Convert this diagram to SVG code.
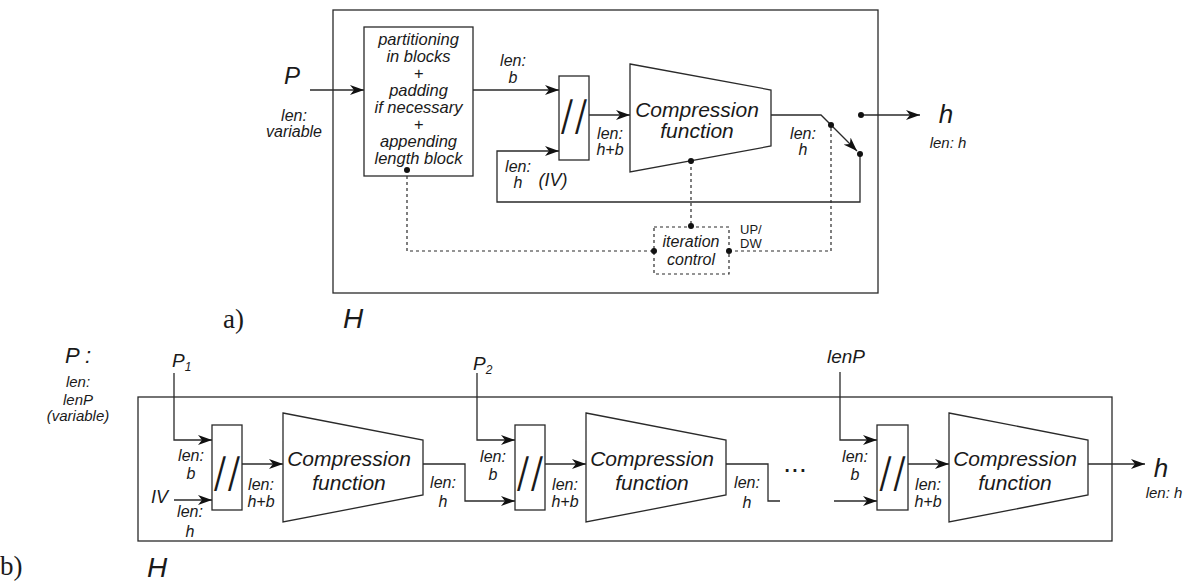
<svg xmlns="http://www.w3.org/2000/svg" width="1189" height="581" viewBox="0 0 1189 581">
<style>
.ln{stroke:#2a2a2a;stroke-width:1.3;fill:none}
.ar{stroke:#2a2a2a;stroke-width:1.3;fill:none;marker-end:url(#ah)}
.dash{stroke:#2a2a2a;stroke-width:1.2;stroke-dasharray:3,3;fill:none}
.box{fill:#fff;stroke:#2a2a2a;stroke-width:1.3}
.dbox{fill:#fff;stroke:#2a2a2a;stroke-width:1.2;stroke-dasharray:3,3}
.dot{fill:#111}
text{font-family:"Liberation Sans",Arial,sans-serif;fill:#1a1a1a}
.it{font-style:italic}
.c{text-anchor:middle}
.s16{font-size:16px}
.pb{font-size:16.5px}
.cf{font-size:21px;font-style:italic;text-anchor:middle}
.sl{font-family:"Inter","Liberation Sans",sans-serif;font-weight:300;font-size:40px;text-anchor:middle}
.ser{font-family:"Liberation Serif","Times New Roman",serif;font-size:27px}
</style>
<defs>
<marker id="ah" markerWidth="15" markerHeight="10" refX="14" refY="5" orient="auto" markerUnits="userSpaceOnUse">
<path d="M0,0 L14,5 L0,10 L4,5 z" fill="#111"/>
</marker>
</defs>

<!-- ===== Part a ===== -->
<g id="a-frame">
<rect class="box" x="333" y="10" width="545" height="283" fill="none"/>
</g>

<g id="a-connectors">
<line class="ar" x1="310" y1="90" x2="364" y2="90"/>
<line class="ar" x1="473" y1="90" x2="559" y2="90"/>
<path class="ar" d="M860,154 V202 H497 V151 H559"/>
<line class="ar" x1="589" y1="115" x2="630" y2="115"/>
<path class="ar" d="M771,115 H821 L857,151"/>
<line class="ar" x1="861" y1="115" x2="920" y2="115"/>
<path class="dash" d="M407,170 V251 H654"/>
<path class="dash" d="M691,161 V227"/>
<path class="dash" d="M729,251 H831 V125"/>
</g>

<g id="a-input">
<text class="it c" x="292" y="84" font-size="24">P</text>
<text class="it c s16" x="294" y="121">len:</text>
<text class="it c s16" x="294" y="137">variable</text>
</g>

<g id="a-partition">
<rect class="box" x="364" y="27" width="109" height="149"/>
<text class="it c pb" x="418.5" y="45">partitioning</text>
<text class="it c pb" x="418.5" y="62">in blocks</text>
<text class="it c pb" x="418.5" y="79">+</text>
<text class="it c pb" x="418.5" y="96">padding</text>
<text class="it c pb" x="418.5" y="113">if necessary</text>
<text class="it c pb" x="418.5" y="130">+</text>
<text class="it c pb" x="418.5" y="147">appending</text>
<text class="it c pb" x="418.5" y="164">length block</text>
</g>

<g id="a-labels">
<text class="it c s16" x="513" y="66">len:</text>
<text class="it c s16" x="513" y="83">b</text>
<text class="it c s16" x="518" y="172">len:</text>
<text class="it c s16" x="518" y="188">h</text>
<text class="it c" x="553" y="186" font-size="18">(IV)</text>
<text class="it c s16" x="610" y="139">len:</text>
<text class="it c s16" x="610" y="155">h+b</text>
<text class="it c s16" x="803" y="139">len:</text>
<text class="it c s16" x="803" y="155">h</text>
</g>

<g id="a-concat">
<rect class="box" x="559" y="76" width="30" height="84"/>
<text class="sl" x="574" y="130">//</text>
</g>

<g id="a-compress">
<polygon class="box" points="630,64 771,90 771,146 630,172"/>
<text class="cf" x="697" y="117">Compression</text>
<text class="cf" x="697" y="138">function</text>
</g>

<g id="a-switch">
<circle class="dot" cx="831" cy="125" r="3"/>
<circle class="dot" cx="860" cy="154" r="3"/>
<circle class="dot" cx="861" cy="115" r="3"/>
</g>

<g id="a-output">
<text class="it c" x="946" y="123" font-size="26">h</text>
<text class="it c" x="948" y="148" font-size="15">len: h</text>
</g>

<g id="a-iteration">
<rect class="dbox" x="654" y="227" width="75" height="47"/>
<text class="it c s16" x="691" y="247">iteration</text>
<text class="it c s16" x="691" y="265">control</text>
<text x="740" y="234" font-size="13">UP/</text>
<text x="740" y="248" font-size="13">DW</text>
<circle class="dot" cx="407" cy="170" r="3"/>
<circle class="dot" cx="691" cy="161" r="3"/>
<circle class="dot" cx="691" cy="226" r="3"/>
<circle class="dot" cx="654" cy="251" r="3"/>
<circle class="dot" cx="729" cy="251" r="3"/>
</g>

<g id="a-caption">
<text class="ser" x="223" y="328">a)</text>
<text class="it c" x="353" y="328" font-size="28">H</text>
</g>

<!-- ===== Part b ===== -->
<g id="b-frame">
<rect class="box" x="138" y="397" width="974" height="144" fill="none"/>
</g>

<g id="b-connectors">
<path class="ar" d="M174,373 V440 H212"/>
<line class="ar" x1="174" y1="500" x2="212" y2="500"/>
<line class="ar" x1="242" y1="464" x2="283" y2="464"/>
<path class="ar" d="M423,464 H465 V501 H515"/>
<path class="ar" d="M477,373 V440 H515"/>
<line class="ar" x1="545" y1="464" x2="586" y2="464"/>
<path class="ln" d="M726,464 H768 V501 H780"/>
<line class="ar" x1="834" y1="501" x2="877" y2="501"/>
<path class="ar" d="M840,372 V440 H877"/>
<line class="ar" x1="908" y1="464" x2="949" y2="464"/>
<line class="ar" x1="1088" y1="464" x2="1145" y2="464"/>
</g>

<g id="b-input">
<text class="it c" x="78" y="363" font-size="22">P :</text>
<text class="it c" x="78" y="387" font-size="15">len:</text>
<text class="it c" x="78" y="405" font-size="15">lenP</text>
<text class="it c" x="78" y="421" font-size="15">(variable)</text>
</g>

<g id="b-p1">
<text class="it" x="172" y="367" font-size="19">P<tspan font-size="12" dy="4">1</tspan></text>
</g>
<g id="b-p2">
<text class="it" x="473" y="370" font-size="19">P<tspan font-size="12" dy="4">2</tspan></text>
</g>
<g id="b-lenp">
<text class="it c" x="846" y="363" font-size="19">lenP</text>
</g>
<g id="b-iv">
<text class="it" x="168" y="503" font-size="18" text-anchor="end">IV</text>
</g>

<g id="b-concat1">
<rect class="box" x="212" y="425" width="30" height="85"/>
<text class="sl" x="227" y="487">//</text>
</g>
<g id="b-compress1">
<polygon class="box" points="283,413 423,440 423,495 283,522"/>
<text class="cf" x="349" y="466">Compression</text>
<text class="cf" x="349" y="490">function</text>
</g>
<g id="b-concat2">
<rect class="box" x="515" y="425" width="30" height="85"/>
<text class="sl" x="530" y="487">//</text>
</g>
<g id="b-compress2">
<polygon class="box" points="586,413 726,440 726,495 586,522"/>
<text class="cf" x="652" y="466">Compression</text>
<text class="cf" x="652" y="490">function</text>
</g>
<g id="b-ellipsis">
<text class="c" x="795" y="472" font-size="28">...</text>
</g>
<g id="b-concat3">
<rect class="box" x="877" y="425" width="31" height="85"/>
<text class="sl" x="892.5" y="487">//</text>
</g>
<g id="b-compress3">
<polygon class="box" points="949,413 1088,440 1088,495 949,522"/>
<text class="cf" x="1015" y="466">Compression</text>
<text class="cf" x="1015" y="490">function</text>
</g>

<g id="b-labels">
<text class="it c s16" x="191" y="461">len:</text>
<text class="it c s16" x="191" y="479">b</text>
<text class="it c s16" x="190" y="517">len:</text>
<text class="it c s16" x="190" y="537">h</text>
<text class="it c s16" x="261" y="490">len:</text>
<text class="it c s16" x="261" y="507">h+b</text>
<text class="it c s16" x="443" y="488">len:</text>
<text class="it c s16" x="443" y="507">h</text>
<text class="it c s16" x="493" y="462">len:</text>
<text class="it c s16" x="493" y="480">b</text>
<text class="it c s16" x="565" y="490">len:</text>
<text class="it c s16" x="565" y="507">h+b</text>
<text class="it c s16" x="747" y="488">len:</text>
<text class="it c s16" x="747" y="508">h</text>
<text class="it c s16" x="855" y="462">len:</text>
<text class="it c s16" x="855" y="480">b</text>
<text class="it c s16" x="928" y="490">len:</text>
<text class="it c s16" x="928" y="507">h+b</text>
</g>

<g id="b-output">
<text class="it c" x="1161" y="477" font-size="26">h</text>
<text class="it c" x="1164" y="498" font-size="15">len: h</text>
</g>

<g id="b-caption">
<text class="ser" x="0" y="575">b)</text>
<text class="it c" x="157" y="577" font-size="28">H</text>
</g>
</svg>
